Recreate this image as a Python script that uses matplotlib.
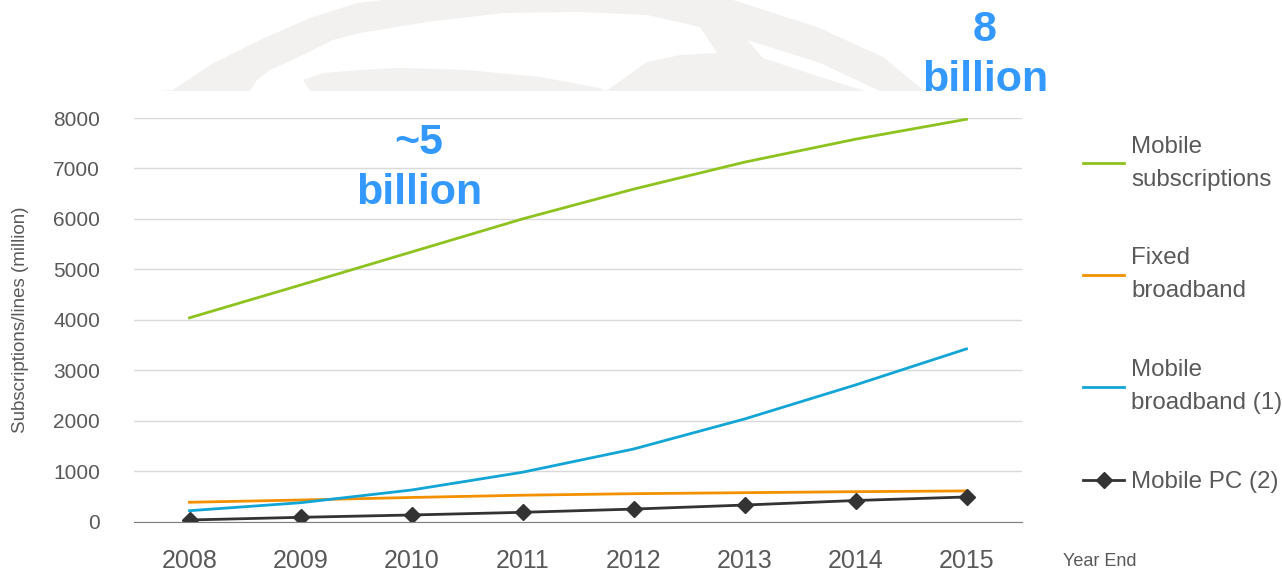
import matplotlib
matplotlib.use('Agg')
import matplotlib.pyplot as plt
from matplotlib.patches import Polygon

plt.rcParams['font.family'] = ['Liberation Sans', 'DejaVu Sans']

years = [2008, 2009, 2010, 2011, 2012, 2013, 2014, 2015]
mobile_subs = [4040, 4690, 5345, 6000, 6590, 7125, 7580, 7975]
fixed_bb = [385, 430, 480, 525, 555, 575, 595, 610]
mobile_bb = [218, 376, 628, 980, 1440, 2035, 2710, 3425]
mobile_pc = [34, 87, 133, 186, 250, 330, 420, 490]
yticks = [0, 1000, 2000, 3000, 4000, 5000, 6000, 7000, 8000]

W, H = 1282, 573
fig = plt.figure(figsize=(W / 100, H / 100), dpi=100)

# faint logo shapes behind the title area (pixel coordinates)
bg = fig.add_axes([0, 0, 1, 1], zorder=0)
bg.set_xlim(0, W)
bg.set_ylim(H, 0)
bg.axis('off')
wm = '#f2f1f0'
outer = [(160, 91), (173, 90), (210, 65), (260, 40), (310, 18), (357, 3), (383, 0),
         (733, 0), (817, 27), (883, 57), (923, 90), (925, 91)]
hole1 = [(250, 91), (257, 80), (270, 70), (303, 55), (333, 40), (360, 33), (427, 22),
         (503, 13), (580, 12), (647, 15), (700, 27), (717, 53), (680, 55), (647, 62),
         (606, 91), (600, 88), (540, 77), (467, 70), (400, 68), (360, 70), (323, 73),
         (303, 80), (310, 91)]
hole2 = [(747, 40), (820, 63), (880, 91), (865, 91), (820, 77), (763, 58)]
bg.add_patch(Polygon(outer, closed=True, fc=wm, ec='none'))
bg.add_patch(Polygon(hole1, closed=True, fc='white', ec='none'))
bg.add_patch(Polygon(hole2, closed=True, fc='white', ec='none'))

ax = fig.add_axes([134 / W, 1 - 521.7 / H, (1022 - 134) / W, (521.7 - 118) / H], zorder=1)
ax.patch.set_alpha(0)

ax.plot(years, mobile_subs, color='#8ec21f', lw=2, label='Mobile\nsubscriptions')
ax.plot(years, fixed_bb, color='#f39000', lw=2, label='Fixed\nbroadband')
ax.plot(years, mobile_bb, color='#12a5d6', lw=2, label='Mobile\nbroadband (1)')
ax.plot(years, mobile_pc, color='#333333', lw=2, marker='D', ms=8,
        label='Mobile PC (2)')

ax.set_xlim(2007.5, 2015.5)
ax.set_ylim(0, 8000)
ax.set_yticks(yticks)
ax.set_xticks(years)
ax.grid(axis='y', color='#d9d9d9', lw=1)
ax.set_axisbelow(True)
for s in ['top', 'right', 'left']:
    ax.spines[s].set_visible(False)
ax.spines['bottom'].set_color('#7f7f7f')
ax.tick_params(axis='both', length=0)
ax.tick_params(axis='y', labelsize=15, labelcolor='#595959', pad=24.5)
ax.tick_params(axis='x', labelsize=18, labelcolor='#595959', pad=19.5)
ax.set_ylabel('Subscriptions/lines (million)', fontsize=13.5, color='#595959', labelpad=17)

fig.text(1100 / W, 1 - 561 / H, 'Year End', fontsize=13, color='#595959',
         ha='center', va='center')

leg = fig.legend(loc='upper left', bbox_to_anchor=(1071 / W, 1 - 123.5 / H),
                 frameon=False, fontsize=17.4, handlelength=1.7, handletextpad=0.3,
                 labelspacing=2.35, borderpad=0, labelcolor='#595959')
for t in leg.get_texts():
    t.set_linespacing(1.65)

blue = '#3399ff'
fig.text(419 / W, 1 - 168 / H, '~5\nbillion', fontsize=31, fontweight='bold',
         color=blue, ha='center', va='center', linespacing=1.34)
fig.text(985 / W, 1 - 55 / H, '8\nbillion', fontsize=31, fontweight='bold',
         color=blue, ha='center', va='center', linespacing=1.34)

fig.savefig('out.png', dpi=100)
